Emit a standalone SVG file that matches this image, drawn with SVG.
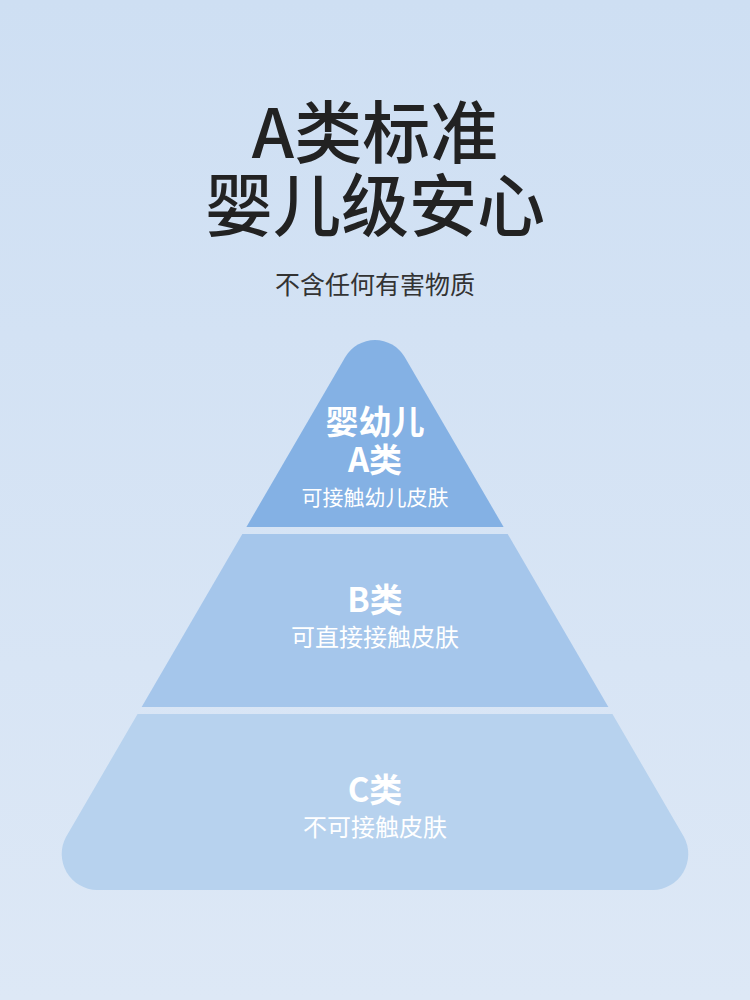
<svg xmlns="http://www.w3.org/2000/svg" width="750" height="1000" viewBox="0 0 750 1000">
<defs>
<linearGradient id="bg" x1="0" y1="0" x2="0" y2="1">
<stop offset="0" stop-color="#cedff3"/>
<stop offset="1" stop-color="#dde8f6"/>
</linearGradient>
<clipPath id="pyr">
<path d="M345.3,357 A34.5,34.5 0 0 1 404.7,357 L684,837 A36,36 0 0 1 653,890 L97,890 A36,36 0 0 1 66,837 Z"/>
</clipPath>
<style>
.t{font-family:"Noto Sans CJK SC","Noto Sans",sans-serif;text-anchor:middle}
.h{font-weight:500;fill:#222;font-size:68px}
.w{fill:#fff}
.b{font-weight:700;font-size:33px}
</style>
</defs>
<rect width="750" height="1000" fill="url(#bg)"/>
<g id="title">
<text class="t h" x="375" y="158">A类标准</text>
<text class="t h" x="375" y="231">婴儿级安心</text>
<text class="t" x="375" y="294" font-size="25" fill="#333">不含任何有害物质</text>
</g>
<g clip-path="url(#pyr)">
<g id="tierA"><rect x="0" y="300" width="750" height="227" fill="#84b1e4"/></g>
<g id="tierB"><rect x="0" y="534" width="750" height="173" fill="#a5c6eb"/></g>
<g id="tierC"><rect x="0" y="714" width="750" height="200" fill="#b7d2ee"/></g>
</g>
<g id="labelA">
<text class="t w b" x="375" y="434">婴幼儿</text>
<text class="t w b" x="375" y="472">A类</text>
<text class="t w" x="375" y="505" font-size="21">可接触幼儿皮肤</text>
</g>
<g id="labelB">
<text class="t w b" x="375" y="612">B类</text>
<text class="t w" x="375" y="646" font-size="24">可直接接触皮肤</text>
</g>
<g id="labelC">
<text class="t w b" x="375" y="802">C类</text>
<text class="t w" x="375" y="836" font-size="24">不可接触皮肤</text>
</g>
<g id="connectors"/>
</svg>
